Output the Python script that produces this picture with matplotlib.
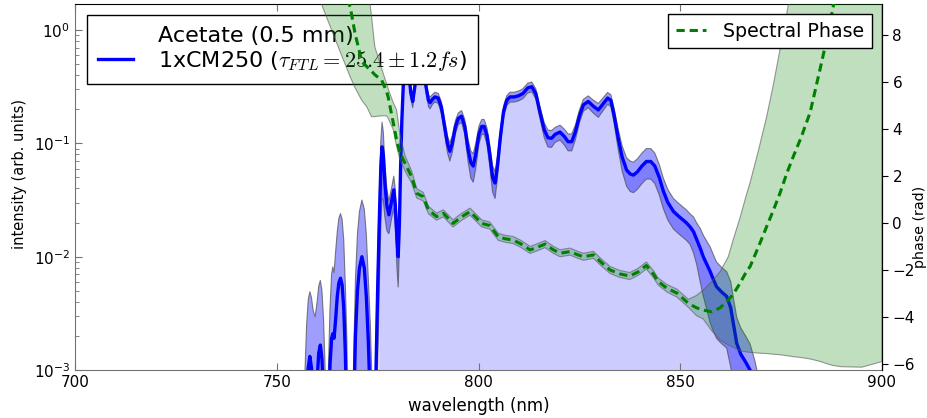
import numpy as np
import matplotlib
matplotlib.use("Agg")
import matplotlib.pyplot as plt
from matplotlib.lines import Line2D

plt.rcParams['font.family'] = ['DejaVu Sans']
plt.rcParams['mathtext.fontset'] = 'cm'

# ---------------- spectrum: wavelength (nm), log10 intensity, relative error ----------------
spec_x = [756.5, 757.0, 757.4, 757.8, 758.2, 758.6, 759.0, 759.5, 760.0, 760.4, 760.8, 761.2, 761.6, 762.0, 762.4,
          762.8, 763.2, 763.6, 763.9, 764.2, 764.6, 765.0, 765.4, 765.8, 766.2, 766.6, 767.0, 767.4, 767.8,
          768.6, 769.0, 769.5, 770.0, 770.5, 771.1, 771.7, 772.2, 772.7, 773.2, 773.6, 774.0, 774.3,
          774.6, 775.0, 775.4, 775.8, 776.1, 776.4, 776.8, 777.3, 777.8, 778.5, 779.0, 779.4, 779.8, 780.1,
          780.4, 780.7, 781.0, 781.4, 781.8, 782.2, 782.7, 783.2, 783.7, 784.2, 784.8, 785.5, 786.3, 787.0,
          787.6, 788.0, 788.6, 789.2, 790.0, 790.8, 791.6, 792.3, 792.9, 793.5, 794.3, 795.0, 795.8, 796.6,
          797.4, 798.1, 798.7, 799.3, 800.1, 800.8, 801.4, 802.1, 802.8, 803.5, 804.1, 804.7, 805.4, 806.2,
          807.0, 807.8, 808.8, 809.9, 811.0, 812.2, 813.2, 814.2, 815.2, 816.3, 817.2, 818.1, 819.0, 820.2,
          821.3, 822.2, 823.1, 824.0, 825.0, 826.0, 827.2, 828.4, 829.7, 830.9, 832.0, 832.8, 833.6, 834.6,
          835.6, 836.7, 837.6, 838.4, 839.4, 840.5, 841.6, 842.7, 843.7, 844.8, 845.8, 846.9, 848.3, 849.5,
          850.5, 851.5, 852.4, 853.3, 854.1, 855.0, 855.7, 856.6, 857.4, 858.2, 859.0, 860.2, 861.5, 862.5,
          863.3, 864.0, 865.0, 866.2, 867.3, 868.5, 870.0]
spec_log = [-5, -3.7, -3.25, -2.98, -2.88, -2.98, -3.3, -3.6, -3.1, -2.85, -2.78, -2.9, -3.25, -4.0, -5,
            -3.7, -2.95, -2.72, -2.68, -2.72, -2.55, -2.35, -2.23, -2.19, -2.25, -2.45, -2.85, -3.5, -5,
            -5, -3.5, -2.7, -2.3, -2.1, -2.0, -2.1, -2.35, -2.75, -3.3, -3.8, -5, -5,
            -3.0, -2.3, -1.7, -1.2, -1.03, -1.1, -1.35, -1.55, -1.63, -1.5, -1.41, -1.55, -1.85, -2.0,
            -1.7, -1.2, -0.8, -0.45, -0.3, -0.25, -0.35, -0.55, -0.63, -0.5, -0.35, -0.28, -0.3, -0.5,
            -0.62, -0.64, -0.61, -0.59, -0.60, -0.68, -0.85, -1.0, -1.07, -1.0, -0.85, -0.78, -0.76, -0.85,
            -1.05, -1.17, -1.20, -1.1, -0.92, -0.85, -0.85, -0.93, -1.1, -1.3, -1.35, -1.2, -0.95, -0.72,
            -0.62, -0.59, -0.59, -0.58, -0.56, -0.51, -0.50, -0.56, -0.72, -0.88, -0.95, -0.955, -0.92, -0.90,
            -0.94, -0.985, -0.985, -0.9, -0.76, -0.66, -0.63, -0.67, -0.705, -0.65, -0.60, -0.62, -0.75, -0.95,
            -1.12, -1.235, -1.27, -1.28, -1.25, -1.2, -1.16, -1.16, -1.2, -1.3, -1.42, -1.52, -1.60, -1.64,
            -1.67, -1.7, -1.735, -1.78, -1.85, -1.93, -2.0, -2.07, -2.13, -2.2, -2.265, -2.31, -2.35, -2.45,
            -2.62, -2.765, -2.86, -2.93, -3.0, -3.15, -3.4]
spec_rel = [0, 4.0, 3.47, 2.98, 2.72, 3.17, 5.76, 10.7, 4.0, 2.89, 2.72, 2.98, 4.0, 9.0, 0,
            4.0, 2.16, 2.72, 2.89, 2.8, 2.98, 2.72, 2.72, 2.72, 2.8, 2.98, 2.98, 4.6, 0,
            0, 2.16, 2.16, 2.16, 2.16, 2.16, 2.31, 2.55, 2.55, 4.0, 4.0, 0, 0,
            1.0, 0.8, 0.75, 0.7, 0.65, 0.6, 0.5, 0.4, 0.32, 0.3, 0.32, 0.38, 0.45, 0.46,
            0.4, 0.3, 0.2, 0.12, 0.1, 0.1, 0.1, 0.12, 0.12, 0.1, 0.1, 0.1, 0.1, 0.12,
            0.12, 0.12, 0.1, 0.1, 0.1, 0.12, 0.15, 0.17, 0.18, 0.17, 0.13, 0.12, 0.12, 0.15,
            0.22, 0.27, 0.28, 0.25, 0.18, 0.15, 0.15, 0.17, 0.22, 0.26, 0.27, 0.22, 0.15, 0.12,
            0.1, 0.1, 0.1, 0.1, 0.1, 0.1, 0.1, 0.1, 0.12, 0.15, 0.17, 0.17, 0.15, 0.15,
            0.16, 0.17, 0.17, 0.15, 0.13, 0.12, 0.12, 0.13, 0.14, 0.13, 0.12, 0.12, 0.15, 0.2,
            0.25, 0.28, 0.3, 0.3, 0.3, 0.3, 0.3, 0.3, 0.3, 0.3, 0.3, 0.3, 0.3, 0.3,
            0.3, 0.3, 0.3, 0.35, 0.4, 0.5, 0.55, 0.6, 0.65, 0.65, 0.65, 0.65, 0.65, 0.7,
            0.7, 0.7, 0.7, 0.7, 0.7, 0.7, 0.7]
fill_start = 775.2

# ---------------- spectral phase (rad) ----------------
ph_x = [756.0, 761.1, 764.9, 768.2, 769.4, 771.1, 772.3, 773.1, 773.5, 774.3, 776.0,
        777.2, 777.6, 778.9, 779.7, 780.5, 781.8, 783.4, 784.7, 786.3, 787.6, 789.6,
        791.3, 793.7, 795.8, 797.9, 800.8, 802.8, 804.9, 806.5, 808.6, 810.5, 812.8,
        814.5, 816.5, 818.5, 820.2, 822.7, 824.5, 826.0, 828.5, 830.5, 832.6, 835.0,
        837.5, 839.5, 841.6, 843.4, 844.5, 846.7, 849.2, 852.0, 854.0, 855.7, 857.8,
        859.9, 861.9, 863.1, 864.8, 866.5, 867.3, 869.4, 871.4, 873.1, 874.7, 876.4,
        878.0, 880.0, 882.2, 884.6, 886.3, 887.9, 890.0, 895.0, 900.0]
ph_y = [14.0, 12.5, 10.6, 9.19, 8.06, 6.85, 6.65, 6.5, 6.45, 6.3, 6.07,
        5.6, 5.36, 4.23, 3.52, 3.0, 2.53, 1.96, 1.25, 1.11, 0.54, 0.26,
        0.40, -0.03, 0.25, 0.47, -0.03, -0.12, -0.60, -0.68, -0.74, -0.90, -1.16,
        -1.05, -0.91, -1.15, -1.30, -1.23, -1.36, -1.45, -1.37, -1.70, -2.01, -2.18,
        -2.27, -2.10, -1.82, -2.20, -2.50, -2.79, -3.00, -3.43, -3.62, -3.72, -3.79,
        -3.62, -3.29, -3.05, -2.58, -2.05, -1.87, -1.02, -0.17, 0.54, 1.25, 2.10,
        2.81, 3.65, 4.70, 6.50, 7.80, 9.19, 11.2, 16.0, 21.0]
ph_lo = [10.8, 9.3, 7.63, 6.21, 5.75, 5.2, 4.94, 4.65, 4.51, 4.52, 4.55,
         4.55, 4.45, 3.95, 3.25, 2.7, 2.2, 1.7, 1.05, 0.93, 0.38, 0.11,
         0.25, -0.18, 0.10, 0.32, -0.18, -0.27, -0.75, -0.83, -0.89, -1.05, -1.31,
         -1.20, -1.06, -1.30, -1.45, -1.38, -1.51, -1.60, -1.52, -1.85, -2.16, -2.33,
         -2.42, -2.25, -1.97, -2.35, -2.65, -2.95, -3.17, -3.60, -3.95, -4.10, -4.60,
         -5.00, -5.20, -5.30, -5.45, -5.50, -5.52, -5.55, -5.57, -5.60, -5.62, -5.66,
         -5.70, -5.74, -5.80, -5.90, -6.00, -6.08, -6.13, -6.15, -5.91]
ph_hi = [20.0, 18.0, 16.0, 14.0, 12.5, 11.0, 10.2, 9.33, 8.77, 7.49, 6.55,
         5.93, 5.70, 5.10, 4.80, 3.80, 2.85, 2.22, 1.45, 1.29, 0.70, 0.41,
         0.55, 0.12, 0.40, 0.62, 0.12, 0.03, -0.45, -0.53, -0.59, -0.75, -1.01,
         -0.90, -0.76, -1.00, -1.15, -1.08, -1.21, -1.30, -1.22, -1.55, -1.86, -2.03,
         -2.12, -1.95, -1.67, -2.05, -2.35, -2.63, -2.83, -3.26, -3.10, -2.87, -2.50,
         -2.08, -1.45, -0.74, 0.20, 1.25, 1.70, 3.09, 4.50, 5.90, 7.35, 8.90,
         10.5, 12.5, 15.0, 17.0, 19.0, 20.0, 22.0, 25.0, 30.0]

x_ticks = [700, 750, 800, 850, 900]
phase_ticks = [-6, -4, -2, 0, 2, 4, 6, 8]
legend_title_line = "Acetate (0.5 mm)"
legend_label = r"1xCM250 ($\tau_{FTL}=25.4\pm1.2fs$)"
phase_label = "Spectral Phase"

sx = np.array(spec_x)
sy = 10.0 ** np.array(spec_log)
sr = np.array(spec_rel)
lo = np.clip(sy * (1 - sr), 1e-7, None)
hi = sy * (1 + sr)

W, H = 927, 418
fig = plt.figure(figsize=(W / 100, H / 100), dpi=100)
L, R, T, B = 75, 882, 4, 370
ax = fig.add_axes([L / W, 1 - B / H, (R - L) / W, (B - T) / H])
ax2 = ax.twinx()

ax.set_yscale('log')
ax.fill_between(sx, 1e-7, sy, where=sx >= fill_start, facecolor=(0, 0, 1, 0.2),
                edgecolor='none', lw=0, zorder=1)
ax.fill_between(sx, lo, hi, facecolor=(0, 0, 1, 0.38), edgecolor=(0.3, 0.3, 0.3, 0.7),
                lw=0.8, zorder=2)
line, = ax.plot(sx, sy, color='blue', lw=2.4, zorder=3)
ax.set_xlim(700, 900)
ax.set_ylim(1e-3, 10 ** 0.23)
ax.set_xticks(x_ticks)
ax.tick_params(axis='both', which='both', direction='in', labelsize=11, top=True,
               right=False, colors='0.45', labelcolor='black')
ax.tick_params(axis='y', which='major', length=5)
ax.tick_params(axis='y', which='minor', length=3)
ax.tick_params(axis='x', which='major', length=5)
ax.set_xlabel("wavelength (nm)", fontsize=12, labelpad=5)
ax.set_ylabel("intensity (arb. units)", fontsize=10.5)
ax.yaxis.set_label_coords(-0.06, 0.535)
for s in ['left', 'bottom']:
    ax.spines[s].set_color('0.45')
ax.spines['top'].set_color('black')

ax2.fill_between(ph_x, ph_lo, ph_hi, facecolor=(0, 0.5, 0, 0.25),
                 edgecolor=(0.35, 0.35, 0.35, 0.6), lw=0.8, zorder=1)
pl, = ax2.plot(ph_x, ph_y, color='green', lw=2.2, linestyle=(0, (2.7, 1.6)), zorder=2)
ax2.set_ylim(-6.27, 9.31)
ax2.set_yticks(phase_ticks)
ax2.tick_params(axis='y', direction='out', length=4, labelsize=11)
ax2.set_ylabel("phase (rad)", fontsize=10.2)
ax2.yaxis.set_label_coords(1.039, 0.39)
for s in ['left', 'top', 'bottom']:
    ax2.spines[s].set_visible(False)
ax2.spines['right'].set_color('black')

blank = Line2D([], [], color='none')
leg1 = ax.legend([blank, line], [legend_title_line, legend_label], loc='upper left',
                 bbox_to_anchor=(12 / (R - L), 1 - 11 / (B - T)), borderaxespad=0,
                 fontsize=16, fancybox=False, framealpha=1, edgecolor='black',
                 handlelength=1.58, handletextpad=1.1, borderpad=0.5, labelspacing=0.12)
leg1.get_frame().set_linewidth(1.0)
leg1.set_zorder(10)
leg2 = ax2.legend([pl], [phase_label], loc='upper right',
                  bbox_to_anchor=(1 - 10 / (R - L), 1 - 10 / (B - T)), borderaxespad=0,
                  fontsize=13.7, fancybox=False, framealpha=1, edgecolor='black',
                  handlelength=1.6, handletextpad=0.9, borderpad=0.4)
leg2.get_frame().set_linewidth(1.0)

fig.savefig("out.png", dpi=100)
